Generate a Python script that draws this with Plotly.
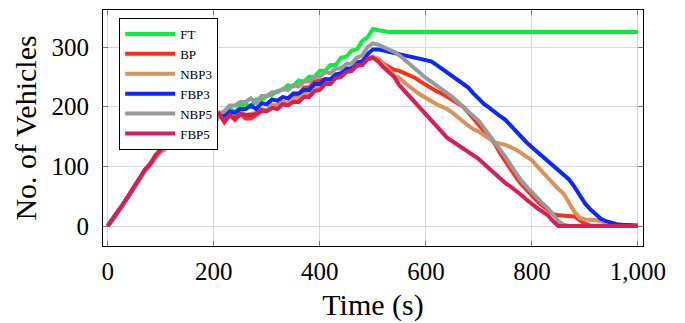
import plotly.graph_objects as go

time_s = list(range(0, 1001, 10))

ft = [0, 13, 25, 39, 51, 67, 79, 95, 103, 119,
      128, 136, 146, 160, 172, 178, 176, 168, 176, 172,
      168, 186, 188, 198, 190, 202, 204, 200, 212, 212,
      218, 220, 226, 228, 236, 234, 244, 242, 250, 250,
      260, 260, 270, 270, 282, 284, 294, 296, 310, 316,
      330, 328, 326, 325, 325, 325, 325, 325, 325, 325,
      325, 325, 325, 325, 325, 325, 325, 325, 325, 325,
      325, 325, 325, 325, 325, 325, 325, 325, 325, 325,
      325, 325, 325, 325, 325, 325, 325, 325, 325, 325,
      325, 325, 325, 325, 325, 325, 325, 325, 325, 325, 325]

bp = [0, 12, 26, 38, 52, 66, 80, 94, 104, 118,
      128, 134, 146, 156, 170, 178, 176, 182, 178, 186,
      178, 188, 174, 186, 178, 188, 180, 180, 186, 192,
      194, 202, 202, 208, 206, 216, 220, 232, 232, 242,
      244, 246, 244, 252, 252, 260, 260, 268, 270, 280,
      282, 280, 272, 266, 262, 260, 256, 252, 248, 242,
      236, 232, 226, 222, 216, 212, 206, 200, 190, 180,
      168, 160, 150, 138, 122, 108, 96, 82, 70, 60,
      50, 42, 34, 26, 20, 18, 17, 17, 16, 10,
      4, 1, 0, 0, 0, 0, 0, 0, 0, 0, 0]

nbp3 = [0, 12, 26, 38, 52, 66, 80, 94, 104, 118,
        128, 135, 146, 157, 170, 178, 178, 182, 180, 186,
        184, 190, 182, 188, 184, 192, 186, 188, 190, 196,
        194, 202, 200, 208, 206, 214, 214, 222, 222, 232,
        234, 242, 242, 252, 252, 262, 262, 272, 272, 282,
        284, 280, 272, 262, 252, 248, 240, 232, 226, 220,
        214, 210, 204, 200, 196, 190, 182, 174, 168, 162,
        158, 152, 146, 140, 138, 136, 132, 128, 122, 116,
        110, 100, 90, 80, 70, 62, 54, 40, 24, 14,
        11, 10, 10, 8, 5, 2, 0, 0, 0, 0, 0]

fbp3 = [0, 12, 25, 38, 51, 65, 79, 93, 103, 116,
        126, 133, 144, 155, 166, 176, 174, 170, 176, 174,
        180, 184, 186, 192, 190, 196, 196, 202, 196, 206,
        204, 212, 210, 216, 214, 222, 222, 228, 228, 238,
        238, 246, 246, 254, 256, 264, 264, 274, 276, 288,
        296, 296, 294, 292, 290, 288, 286, 284, 282, 281,
        279, 276, 270, 264, 258, 252, 246, 240, 232, 222,
        212, 204, 198, 190, 184, 178, 168, 158, 148, 140,
        132, 124, 116, 108, 100, 94, 86, 78, 66, 52,
        38, 28, 20, 12, 8, 5, 3, 2, 2, 1, 1]

nbp5 = [0, 11, 24, 37, 50, 64, 78, 92, 102, 114,
        124, 130, 142, 152, 164, 170, 160, 162, 158, 170,
        168, 188, 192, 202, 202, 208, 208, 214, 206, 218,
        218, 224, 224, 230, 228, 236, 234, 242, 242, 250,
        250, 258, 256, 264, 264, 272, 272, 282, 286, 300,
        306, 304, 300, 296, 292, 286, 278, 270, 262, 254,
        248, 242, 236, 230, 223, 216, 208, 200, 194, 186,
        176, 164, 152, 142, 130, 116, 102, 88, 76, 66,
        56, 46, 38, 30, 18, 8, 2, 0, 0, 0,
        0, 0, 0, 0, 0, 0, 0, 0, 0, 0, 0]

fbp5 = [0, 12, 26, 38, 52, 66, 80, 94, 104, 118,
        128, 134, 146, 156, 170, 178, 176, 182, 178, 186,
        182, 188, 176, 186, 180, 188, 186, 186, 188, 194,
        192, 198, 196, 204, 202, 208, 208, 216, 216, 226,
        228, 238, 238, 248, 250, 258, 260, 270, 270, 280,
        282, 276, 266, 258, 250, 236, 226, 216, 206, 196,
        188, 178, 168, 158, 148, 142, 136, 130, 126, 120,
        112, 104, 96, 86, 78, 72, 66, 60, 52, 44,
        36, 30, 24, 18, 8, 0, 0, 0, 0, 0,
        0, 0, 0, 0, 0, 0, 0, 0, 0, 0, 0]

series_names = ["FT", "BP", "NBP3", "FBP3", "NBP5", "FBP5"]
series_values = [ft, bp, nbp3, fbp3, nbp5, fbp5]
series_colors = ["#05f03a", "#ff2d1a", "#d8925a", "#0a28ff", "#999999", "#d81f55"]

x_ticks = [0, 200, 400, 600, 800, 1000]
x_tick_labels = ["0", "200", "400", "600", "800", "1,000"]
y_ticks = [0, 100, 200, 300]

FONT = "Liberation Serif"

fig = go.Figure()
for name, vals, col in zip(series_names, series_values, series_colors):
    fig.add_trace(go.Scatter(x=time_s, y=vals, name=name, mode="lines",
                             line=dict(color=col, width=4)))

axis_common = dict(showline=True, linecolor="black", linewidth=1.2, mirror="ticks",
                   ticks="inside", ticklen=5, tickcolor="#777", tickwidth=1,
                   showgrid=True, gridcolor="#d8d8d8", gridwidth=1, zeroline=False,
                   automargin=False,
                   tickfont=dict(family=FONT, size=25, color="black"))

fig.update_xaxes(range=[-9, 1009.5], tickvals=x_ticks, ticktext=x_tick_labels,
                 title=dict(text="Time (s)", font=dict(family=FONT, size=30, color="black"), standoff=9),
                 ticklabelstandoff=3, **axis_common)
fig.update_yaxes(range=[-33.5, 362], tickvals=y_ticks,
                 title=dict(text="No. of Vehicles", font=dict(family=FONT, size=30, color="black"), standoff=5),
                 ticklabelstandoff=8, **axis_common)

fig.update_layout(
    width=685, height=323,
    margin=dict(l=103, r=42, t=10, b=77),
    paper_bgcolor="white", plot_bgcolor="white",
    font=dict(family=FONT, color="black"),
    legend=dict(x=0.03, y=0.966, xanchor="left", yanchor="top",
                bordercolor="black", borderwidth=1, bgcolor="white",
                font=dict(family=FONT, size=13, color="black"),
                tracegroupgap=0, itemwidth=50),
    showlegend=True,
)

fig.write_html("out.html", config={"displayModeBar": False},
               post_script="document.body.style.margin='0';document.body.style.overflow='hidden';")
